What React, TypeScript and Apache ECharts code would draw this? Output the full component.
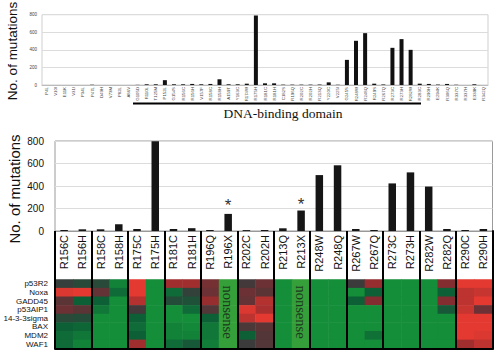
import React, { useEffect, useRef } from "react";
import * as echarts from "echarts";

// ---------- data ----------
const topLabels = [
  "P4L", "V10I", "E11K", "V31I", "P34L", "P47L", "D49H", "V73M", "P82L", "A86V",
  "G105D", "R110L", "T125M", "P152L", "G154S", "R156C", "R156H", "V157F", "R158C", "R158H",
  "A159T", "Y163C", "R174W", "R175H", "R181C", "R181H", "C182S", "R196Q", "R202C", "R202H",
  "R213Q", "Y220C", "V225I", "G245S", "R248W", "R248Q", "R249S", "R267Q", "R273C", "R273H",
  "R282W", "R283C", "R290H", "E294K", "R306Q", "R337C", "R337H", "E339K", "R342Q",
];
const topValues = [
  0, 0, 0, 0, 0, 3, 0, 0, 0, 0,
  2, 8, 8, 55, 8, 8, 12, 8, 12, 65,
  8, 8, 15, 790, 19, 19, 4, 4, 4, 4,
  5, 30, 3, 286, 503, 590, 15, 6, 423, 522,
  400, 15, 12, 5, 12, 3, 0, 8, 0,
];

const bottomLabels = [
  "R156C", "R156H", "R158C", "R158H", "R175C", "R175H", "R181C", "R181H",
  "R196Q", "R196X", "R202C", "R202H", "R213Q", "R213X", "R248W", "R248Q",
  "R267W", "R267Q", "R273C", "R273H", "R282W", "R282Q", "R290C", "R290H",
];
const bottomValues = [
  9, 15, 15, 60, 18, 797, 18, 25,
  9, 152, 8, 9, 24, 182, 497, 584,
  18, 9, 423, 521, 395, 18, 9, 18,
];
const asteriskLabels = ["R196X", "R213X"];
const nonsenseLabels = ["R196X", "R213X"];

const genes = ["p53R2", "Noxa", "GADD45", "p53AIP1", "14-3-3sigma", "BAX", "MDM2", "WAF1"];
// expression (−1 green … 0 dark … +1 red); null = nonsense column
const p53R2Row = [-0.05, -0.2, -0.2, -0.8, 0.95, -0.9, 0.6, 0.6, 0.35, null, 0.05, 0.3, -0.9, null, -0.9, -0.9, 0.0, 0.55, -0.9, -0.9, -0.9, 0.45, 0.95, 0.95];
const noxaRow = [0.9, 0.95, 0.25, -0.6, 0.95, -0.9, -0.6, -0.1, 0.3, null, 0.3, 0.2, -0.9, null, -0.9, -0.9, -0.9, -0.5, -0.9, -0.9, -0.9, -0.5, 0.75, 0.8];
const gadd45Row = [0.2, -0.5, -0.5, -0.9, 0.7, -0.9, -0.25, -0.3, 0.55, null, 0.25, 0.7, -0.9, null, -0.9, -0.9, -0.5, 0.45, -0.9, -0.9, -0.9, 0.45, 0.75, 0.95];
const p53aip1Row = [0.3, 0.2, -0.7, -0.9, 0.05, -0.9, -0.9, -0.6, 0.15, null, 0.9, 0.65, -0.9, null, -0.9, -0.9, -0.9, -0.9, -0.9, -0.9, -0.9, -0.4, 0.8, 0.3];
const sigmaRow = [-0.2, -0.25, -0.9, -0.9, -0.5, -0.9, -0.9, -0.9, -0.5, null, 0.75, 0.95, -0.9, null, -0.9, -0.9, -0.9, -0.9, -0.9, -0.9, -0.9, -0.9, 0.95, 0.95];
const baxRow = [-0.5, -0.55, -0.9, -0.9, -0.6, -0.9, -0.8, -0.85, -0.7, null, 0.1, 0.2, -0.9, null, -0.9, -0.9, -0.9, -0.9, -0.9, -0.9, -0.9, -0.9, 0.95, 0.95];
const mdm2Row = [-0.6, -0.7, -0.9, -0.9, -0.5, -0.9, -0.8, -0.8, -0.7, null, -0.5, 0.15, -0.9, null, -0.9, -0.9, -0.9, -0.65, -0.9, -0.9, -0.9, -0.9, 0.95, 0.9];
const waf1Row = [-0.6, -0.8, -0.9, -0.9, 0.6, -0.9, -0.6, -0.4, -0.75, null, 0.0, 0.15, -0.9, null, -0.9, -0.9, -0.9, -0.9, -0.9, -0.9, -0.9, -0.9, 0.6, 0.75];
const expressionRows = [p53R2Row, noxaRow, gadd45Row, p53aip1Row, sigmaRow, baxRow, mdm2Row, waf1Row];

const yTickInterval = 200;
const yMax = 800;

// ---------- chart ----------
const FONT = "'Liberation Sans', Arial, sans-serif";
const SERIF = "'Liberation Serif', 'Times New Roman', serif";

export default function App() {
  const ref = useRef<HTMLDivElement>(null);

  useEffect(() => {
    if (!ref.current) return;
    const chart = echarts.init(ref.current, undefined, { renderer: "svg" });

    const heatData: any[] = [];
    expressionRows.forEach((row, r) => {
      row.forEach((v, c) => {
        if (v !== null) heatData.push([c, r, v]);
      });
    });
    const nonsenseData: any[] = [];
    nonsenseLabels.forEach((lab) => {
      const c = bottomLabels.indexOf(lab);
      genes.forEach((_, r) => nonsenseData.push([c, r, 1]));
    });

    const bottomData = bottomValues.map((v, i) =>
      asteriskLabels.includes(bottomLabels[i])
        ? {
            value: v,
            label: {
              show: true,
              formatter: "*",
              position: "top",
              distance: bottomLabels[i] === "R196X" ? 0 : -2,
              fontSize: 17,
              color: "#333",
              fontFamily: FONT,
            },
          }
        : v
    );

    chart.setOption({
      animation: false,
      textStyle: { fontFamily: FONT },
      grid: [
        { left: 42, top: 14.7, width: 446, height: 70.3, show: true, borderColor: "#cfcfcf", borderWidth: 1 },
        { left: 55, top: 141, width: 437.5, height: 90, show: true, borderColor: "#9a9a9a", borderWidth: 1 },
        { left: 55, top: 279.5, width: 437.5, height: 69 },
        { left: 55, top: 231, width: 437.5, height: 118 },
      ],
      xAxis: [
        {
          gridIndex: 0, type: "category", data: topLabels,
          axisTick: { show: false },
          axisLine: { lineStyle: { color: "#bbb" } },
          axisLabel: { interval: 0, rotate: 90, fontSize: 4.3, color: "#444", margin: 2 },
        },
        {
          gridIndex: 1, type: "category", data: bottomLabels,
          axisTick: { show: false },
          axisLine: { lineStyle: { color: "#999" } },
          axisLabel: { interval: 0, rotate: 90, fontSize: 11, color: "#111", margin: 4 },
        },
        { gridIndex: 2, type: "category", data: bottomLabels, show: false },
        {
          gridIndex: 3, type: "category", data: bottomLabels, z: 10,
          axisTick: { show: false },
          axisLabel: { show: false },
          axisLine: { show: true, lineStyle: { color: "#000", width: 2 } },
          splitLine: { show: true, interval: (i: number) => i % 2 === 0, lineStyle: { color: "#000", width: 2 } },
        },
      ],
      yAxis: [
        {
          gridIndex: 0, type: "value", min: 0, max: yMax, interval: yTickInterval,
          axisLine: { show: false }, axisTick: { show: false },
          axisLabel: { fontSize: 4.5, color: "#444", margin: 5 },
          splitLine: { lineStyle: { color: "#dcdcdc" } },
        },
        {
          gridIndex: 1, type: "value", min: 0, max: yMax, interval: yTickInterval,
          axisLine: { show: false }, axisTick: { show: false },
          axisLabel: { fontSize: 10, color: "#111", margin: 11 },
          splitLine: { lineStyle: { color: "#dcdcdc" } },
        },
        {
          gridIndex: 2, type: "category", data: genes, inverse: true,
          axisLine: { show: false }, axisTick: { show: false },
          axisLabel: { interval: 0, fontSize: 8, color: "#111", margin: 7 },
        },
        {
          gridIndex: 3, type: "value", position: "right", z: 10,
          axisLabel: { show: false }, axisTick: { show: false }, splitLine: { show: false },
          axisLine: { show: true, lineStyle: { color: "#000", width: 2 } },
        },
      ],
      visualMap: [
        {
          type: "continuous", show: false, min: -1, max: 1, seriesIndex: 2, dimension: 2,
          inRange: { color: ["#169a3a", "#0d5f36", "#3b3b3b", "#8c2b2f", "#ee3b30"] },
        },
        {
          type: "continuous", show: false, min: 0, max: 2, seriesIndex: 3, dimension: 2,
          inRange: { color: ["#35a03a", "#35a03a"] },
        },
      ],
      series: [
        {
          type: "bar", xAxisIndex: 0, yAxisIndex: 0, data: topValues, barWidth: 4,
          itemStyle: { color: "#111" },
        },
        {
          type: "bar", xAxisIndex: 1, yAxisIndex: 1, data: bottomData, barWidth: 7.5,
          itemStyle: { color: "#161616" },
        },
        {
          type: "heatmap", xAxisIndex: 2, yAxisIndex: 2, data: heatData,
        },
        {
          type: "heatmap", xAxisIndex: 2, yAxisIndex: 2, data: nonsenseData,
        },
      ],
      graphic: [
        {
          type: "text", x: 12, y: 51, rotation: Math.PI / 2,
          style: { text: "No. of mutations", fontSize: 13.5, fontFamily: FONT, fill: "#111", align: "center", verticalAlign: "middle" },
        },
        {
          type: "text", x: 14, y: 189, rotation: Math.PI / 2,
          style: { text: "No. of mutations", fontSize: 15, fontFamily: FONT, fill: "#111", align: "center", verticalAlign: "middle" },
        },
        {
          type: "line", shape: { x1: 133, y1: 103.5, x2: 421, y2: 103.5 },
          style: { stroke: "#000", lineWidth: 2 },
        },
        {
          type: "text", x: 283, y: 113,
          style: { text: "DNA-binding domain", fontSize: 13.5, fontFamily: SERIF, fill: "#111", align: "center", verticalAlign: "middle" },
        },
        {
          type: "text", x: 228, y: 312, rotation: -Math.PI / 2, z: 20,
          style: { text: "nonsense", fontSize: 14.5, fontFamily: SERIF, fill: "#1d3a1d", align: "center", verticalAlign: "middle" },
        },
        {
          type: "text", x: 300.7, y: 312, rotation: -Math.PI / 2, z: 20,
          style: { text: "nonsense", fontSize: 14.5, fontFamily: SERIF, fill: "#1d3a1d", align: "center", verticalAlign: "middle" },
        },
      ],
    });

    return () => chart.dispose();
  }, []);

  return (
    <div
      ref={ref}
      style={{ position: "fixed", left: 0, top: 0, width: 500, height: 359, background: "#fff" }}
    />
  );
}
